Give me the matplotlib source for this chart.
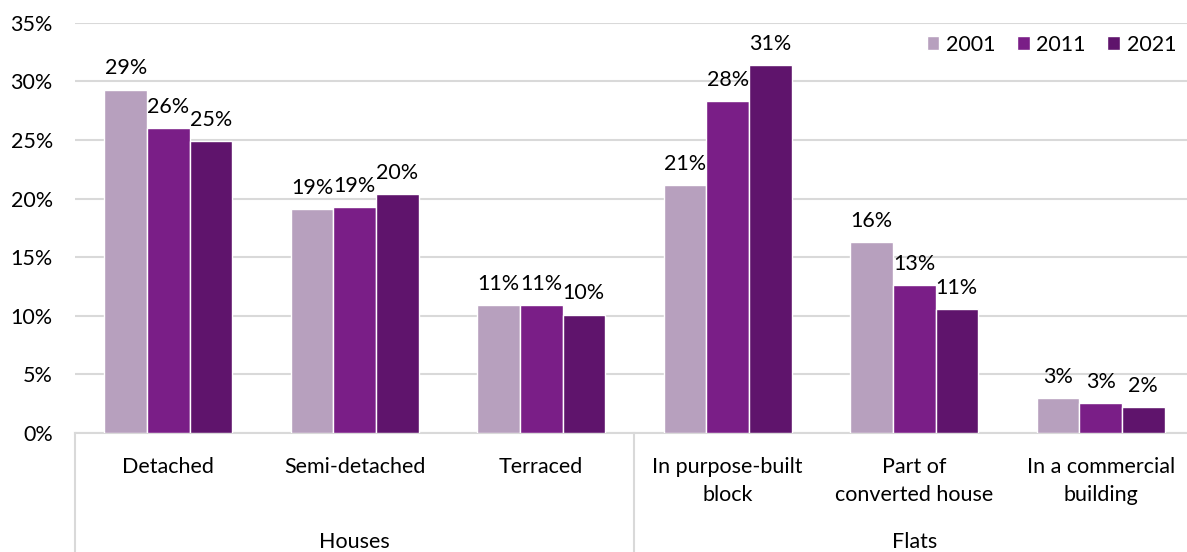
import matplotlib
matplotlib.use("Agg")
import matplotlib.pyplot as plt
import numpy as np

plt.rcParams['font.family'] = ['Lato', 'DejaVu Sans']

categories = ["Detached", "Semi-detached", "Terraced",
              "In purpose-built\nblock", "Part of\nconverted house",
              "In a commercial\nbuilding"]
groups = ["Houses", "Flats"]
years = ["2001", "2011", "2021"]

share_2001 = [29.3, 19.1, 10.9, 21.15, 16.3, 2.96]
share_2011 = [26.0, 19.25, 10.9, 28.35, 12.65, 2.57]
share_2021 = [24.9, 20.4, 10.1, 31.4, 10.55, 2.2]

colors = ["#B7A0BE", "#7A1E87", "#5F146C"]
grid_col = "#D9D9D9"
fs = 15.5

W, H = 1187, 552
fig = plt.figure(figsize=(W / 100, H / 100), dpi=100)
# plot area runs a little past the right edge, like the reference crop
ax = fig.add_axes([75 / W, 119 / H, 1119 / W, 410.3 / H])

x = np.arange(len(categories))
bw = 0.228
series = [share_2001, share_2011, share_2021]
for k, (vals, col, yr) in enumerate(zip(series, colors, years)):
    pos = x + (k - 1) * bw
    bars = ax.bar(pos, vals, width=bw, color=col, edgecolor="white",
                  linewidth=1.0, label=yr, zorder=3)
    for b, v in zip(bars, vals):
        ax.annotate(f"{v:.0f}%", (b.get_x() + b.get_width() / 2, v),
                    xytext=(0, 8), textcoords="offset points",
                    ha="center", va="bottom", fontsize=fs, color="black")

ax.set_xlim(-0.5, 5.5)
ax.set_ylim(0, 35)
ax.set_yticks(np.arange(0, 36, 5))
ax.set_yticklabels([f"{t}%" for t in range(0, 36, 5)], fontsize=fs)
ax.tick_params(axis="y", length=0, pad=16)
ax.set_xticks([])
ax.yaxis.grid(True, color=grid_col, linewidth=1.5, zorder=0)
ax.set_axisbelow(True)
for s in ["top", "right", "left"]:
    ax.spines[s].set_visible(False)
ax.spines["bottom"].set_color(grid_col)
ax.spines["bottom"].set_linewidth(1.5)

# category labels under the axis
for i, c in enumerate(categories):
    ax.annotate(c, (i, 0), xycoords=("data", "axes fraction"),
                xytext=(0, -17), textcoords="offset points",
                ha="center", va="top", fontsize=fs, linespacing=1.5)

# group labels and separators
for gi, g in enumerate(groups):
    ax.annotate(g, (1 + 3 * gi, 0), xycoords=("data", "axes fraction"),
                xytext=(0, -83), textcoords="offset points",
                ha="center", va="baseline", fontsize=fs)
tr = ax.get_xaxis_transform()
for sx in [-0.5, 2.5, 5.5]:
    ax.plot([sx, sx], [0, -0.3], transform=tr, color=grid_col,
            linewidth=1.5, clip_on=False)

fig.legend(loc="upper right", bbox_to_anchor=(1.0, 1 - 24 / H), ncol=3,
           frameon=False, fontsize=fs, handlelength=0.6, handleheight=0.6,
           handletextpad=0.3, columnspacing=1.0, borderaxespad=0.1)

fig.savefig("out.png", dpi=100)
